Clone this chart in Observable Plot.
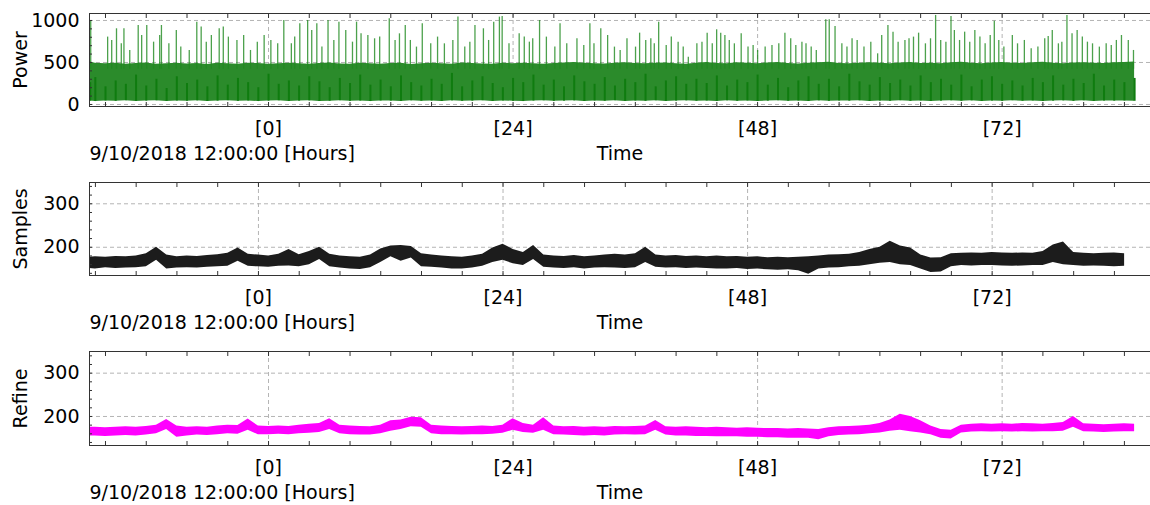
<!DOCTYPE html>
<html><head><meta charset="utf-8">
<script src="https://cdn.jsdelivr.net/npm/d3@7"></script>
<script src="https://cdn.jsdelivr.net/npm/@observablehq/plot@0.6"></script>
<style>
body{margin:0;background:#fff;}
#charts{width:1150px;}
#charts svg{display:block;}
</style></head><body><div id="charts"></div>
<script>
// time axis: hours relative to 9/10/2018 12:00:00
const hours = [-17.5, ...d3.range(-17, 86)];
const xTickValues = [0, 24, 48, 72];
const xMinorTicks = d3.range(-16, 88, 4);

// Power: dense band (low / high), darker streaks, and spikes
const powerLow = [
  40,35,42,38,45,36,40,44,37,41,39,
  43,36,40,45,38,42,35,41,44,37,
  40,43,36,39,45,38,41,35,42,40,
  37,44,39,41,36,43,38,40,45,37,
  42,39,35,41,44,38,40,43,36,42,
  39,45,37,41,38,44,36,40,43,39,
  41,37,44,38,42,35,40,45,39,41,
  36,43,38,42,40,44,37,41,39,45,
  38,42,36,40,44,39,43,37,41,38,
  45,39,42,36,40,43,38,44,37,41,
  40,42,38];
const powerHigh = [
  505,490,485,492,480,488,495,478,486,490,482,
  488,476,492,485,480,490,487,478,484,492,
  486,480,488,495,482,478,490,485,480,488,
  492,476,484,490,486,480,495,488,482,478,
  490,486,492,484,480,488,495,500,490,486,
  482,492,498,488,484,490,495,486,480,492,
  500,488,484,496,490,486,494,500,488,482,
  490,496,502,488,484,492,498,490,486,494,
  500,488,492,486,498,504,490,486,494,500,
  492,488,496,502,490,486,494,498,492,488,
  496,500,505];
const powerDense = [
  260,320,210,280,240,350,220,300,190,330,250,
  290,210,340,230,310,260,200,360,240,280,
  220,330,270,200,310,250,350,230,290,210,
  340,260,220,300,240,370,210,280,330,250,
  200,310,260,350,230,290,210,340,270,240,
  320,220,300,260,360,210,280,330,240,300,
  250,340,220,290,260,350,230,310,200,280,
  330,240,300,210,360,270,230,320,250,290,
  220,340,260,300,230,350,210,290,330,240,
  280,220,310,260,340,230,300,250,360,220,
  290,260,310];
const spikeHours = [
  -17.45,-15.79,-15.39,-14.92,-14.45,-14.19,-13.62,-12.79,-12.45,-11.95,-11.28,-10.68,-10.51,-9.78,-9.05,-8.61,-7.78,-7.04,-6.61,-6.11,
  -5.61,-4.84,-4.44,-3.94,-3.10,-2.44,-1.77,-1.10,-0.43,0.23,0.90,1.50,2.24,2.57,3.07,3.84,4.24,4.74,5.24,5.84,
  6.41,6.91,7.58,8.24,8.64,9.08,9.75,10.41,10.91,11.85,12.42,12.85,13.42,13.92,14.52,15.09,15.92,16.59,17.26,18.09,
  18.59,19.26,19.76,20.26,21.09,21.60,22.10,22.66,22.93,23.60,24.60,25.10,25.60,25.93,26.60,27.27,28.10,28.61,29.27,30.27,
  30.94,31.54,31.94,32.61,33.28,33.95,34.51,35.18,36.02,36.42,37.02,37.52,37.86,38.29,39.03,39.53,40.20,40.70,41.20,42.04,
  42.54,43.05,43.55,43.98,44.38,44.79,45.22,45.72,46.39,47.06,47.56,48.00,48.74,49.41,50.08,50.68,51.25,51.75,52.35,52.75,
  53.26,53.76,54.69,55.03,55.60,56.27,56.77,57.27,57.77,58.44,59.11,59.78,60.18,60.79,61.29,61.79,62.46,62.86,63.30,63.80,
  64.47,64.97,65.47,65.97,66.48,66.98,67.31,67.82,68.32,68.82,69.32,69.82,70.33,70.83,71.23,71.67,72.17,73.00,73.51,74.18,
  74.85,75.51,76.18,76.52,76.92,77.52,77.86,78.36,78.86,79.36,79.87,80.37,80.87,81.54,82.21,82.71,83.21,83.71,84.38,84.89];
const spikeValues = [
  1000,802,762,901,722,901,643,940,821,940,742,821,940,722,881,683,643,980,921,742,
  821,901,921,802,762,821,643,742,821,762,722,1000,722,802,960,1000,881,960,683,1000,
  762,980,881,742,980,841,821,782,802,1020,762,841,940,762,683,960,722,802,722,762,
  1040,683,742,940,901,762,980,1040,1048,722,841,802,742,782,1000,802,683,960,722,782,
  702,960,722,901,821,683,643,782,683,849,762,782,722,980,702,802,742,683,563,722,
  742,849,722,889,849,821,762,722,841,683,702,643,683,702,722,849,782,702,742,722,
  683,643,1008,1008,929,722,683,782,762,683,742,603,821,940,861,742,762,782,802,849,
  722,782,1060,762,742,1048,881,762,861,742,881,802,722,821,992,762,683,821,722,762,
  663,683,782,810,881,722,742,1060,841,881,802,742,722,683,722,702,762,821,762,643];

// Samples: band low / high
const samplesLow = [
  153,152,150,153,151,152,153,155,170,150,152,
  153,152,154,155,156,168,156,155,154,156,
  157,155,160,172,155,152,150,149,153,165,
  178,168,175,155,154,152,150,150,152,156,
  165,170,162,158,172,154,152,151,153,150,
  152,153,152,151,153,165,154,152,153,151,
  152,151,150,150,151,149,150,148,147,148,
  146,138,150,152,153,155,156,160,163,165,
  160,158,150,142,143,155,158,157,158,158,
  157,156,157,158,158,165,160,158,156,157,
  156,155,156];
const samplesHigh = [
  177,176,178,177,179,178,180,185,200,182,178,
  180,179,181,183,186,198,184,182,180,184,
  195,183,190,200,184,180,178,177,182,196,
  203,204,202,185,182,180,178,177,180,184,
  198,207,195,188,204,182,180,179,181,178,
  180,182,184,182,185,200,182,180,181,179,
  180,178,180,178,179,177,178,176,177,176,
  177,178,180,182,183,184,188,195,200,214,
  203,198,182,175,176,185,186,187,186,188,
  187,186,187,186,190,205,212,188,186,185,
  186,187,185];

// Refine: band low / high
const refineLow = [
  155,155,154,155,156,155,157,160,170,152,155,
  157,156,158,160,159,168,158,158,159,158,
  160,161,163,170,160,158,157,157,160,166,
  170,176,175,160,158,158,157,158,158,159,
  161,168,163,161,168,158,157,156,155,156,
  155,157,158,157,158,168,157,155,155,154,
  154,153,153,153,152,152,151,151,150,150,
  150,146,153,156,157,158,160,162,166,168,
  165,162,158,150,148,162,164,165,164,165,
  164,165,164,165,165,166,175,165,164,163,
  164,165,165];
const refineHigh = [
  175,175,174,175,176,175,177,180,193,178,175,
  176,175,178,180,179,194,178,177,178,177,
  180,182,184,195,180,178,177,176,180,190,
  192,198,197,180,178,177,176,177,178,177,
  180,195,184,180,197,178,176,177,175,176,
  175,177,176,177,178,191,176,175,176,175,
  174,175,174,173,174,173,172,172,171,172,
  171,170,174,176,177,178,180,184,192,205,
  200,190,178,170,168,180,182,183,182,183,
  182,184,183,182,184,186,200,183,182,181,
  182,183,182];

const powerRows = hours.map((t, i) => ({t, lo: powerLow[i], hi: powerHigh[i], mid: powerDense[i]}));
const spikeRows = spikeHours.map((t, i) => ({t, v: spikeValues[i]}));
const samplesRows = hours.map((t, i) => ({t, lo: samplesLow[i], hi: samplesHigh[i]}));
const refineRows = hours.map((t, i) => ({t, lo: refineLow[i], hi: refineHigh[i]}));

const FONT = "DejaVu Sans, Verdana, sans-serif";
const GRID = {stroke: "#b4b4b4", strokeOpacity: 1, strokeDasharray: "4,3"};

function panel(o) {
  return Plot.plot({
    width: 1150, height: o.height,
    marginLeft: 89, marginRight: 0, marginTop: o.mt, marginBottom: o.mb,
    style: {fontFamily: FONT, fontSize: "19px", color: "#000", background: "#fff"},
    x: {domain: o.xDomain},
    y: {domain: o.yDomain},
    marks: [
      Plot.gridX(xTickValues, GRID),
      Plot.gridY(o.yTicks, GRID),
      ...o.marks,
      Plot.ruleY([o.yDomain[0], o.yDomain[1]], {stroke: "#333"}),
      Plot.ruleX([o.xDomain[0]], {stroke: "#333"}),
      Plot.axisX(xMinorTicks, {tickSize: -4, tickFormat: () => "", stroke: "#333", label: null}),
      Plot.axisX(xMinorTicks, {anchor: "top", tickSize: -4, tickFormat: () => "", stroke: "#333", label: null}),
      Plot.axisX(xTickValues, {tickSize: 0, tickPadding: 15, tickFormat: d => `[${d}]`, label: null}),
      Plot.axisY(o.yMinor, {tickSize: -3, tickFormat: () => "", stroke: "#333", label: null}),
      Plot.axisY(o.yTicks, {tickSize: 0, tickPadding: 10, tickFormat: d => String(d), label: null}),
      Plot.text([o.label], {frameAnchor: "left", textAnchor: "middle", rotate: -90, dx: -69, fill: "#000"}),
      Plot.text(["9/10/2018 12:00:00 [Hours]"], {frameAnchor: "bottom-left", textAnchor: "start", dy: 53, fill: "#000"}),
      Plot.text(["Time"], {frameAnchor: "bottom", dy: 53, fill: "#000"})
    ]
  });
}

const charts = document.getElementById("charts");
charts.append(panel({
  height: 170, mt: 13, mb: 64,
  xDomain: [-17.57, 86.56], yDomain: [-24, 1083],
  yTicks: [0, 500, 1000], yMinor: d3.range(0, 1001, 100),
  label: "Power",
  marks: [
    Plot.areaY(powerRows, {x: "t", y1: "lo", y2: "hi", fill: "#2b8b2b", clip: true}),
    Plot.ruleX(powerRows, {x: "t", y1: "lo", y2: "mid", stroke: "#0f7c0f", strokeWidth: 2, clip: true}),
    Plot.ruleX(spikeRows, {x: "t", y1: 420, y2: "v", stroke: "#1f8a1f", strokeOpacity: 0.8, strokeWidth: 1.3, clip: true})
  ]
}));
charts.append(panel({
  height: 170, mt: 12, mb: 65,
  xDomain: [-16.58, 87.54], yDomain: [135, 349],
  yTicks: [200, 300], yMinor: d3.range(140, 341, 20),
  label: "Samples",
  marks: [
    Plot.areaY(samplesRows, {x: "t", y1: "lo", y2: "hi", fill: "#1c1c1c", clip: true})
  ]
}));
charts.append(panel({
  height: 165, mt: 11, mb: 60,
  xDomain: [-17.57, 86.56], yDomain: [133, 350],
  yTicks: [200, 300], yMinor: d3.range(140, 341, 20),
  label: "Refine",
  marks: [
    Plot.areaY(refineRows, {x: "t", y1: "lo", y2: "hi", fill: "#ff00ff", clip: true})
  ]
}));
</script>
</body></html>
